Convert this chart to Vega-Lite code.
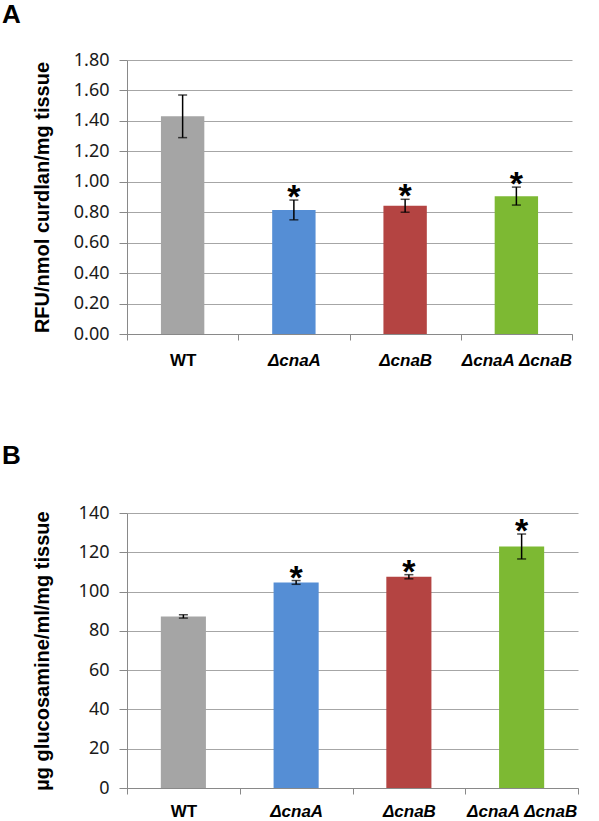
{
  "$schema": "https://vega.github.io/schema/vega-lite/v6.json",
  "background": "white",
  "padding": {"left": 2, "top": 2, "right": 2, "bottom": 0},
  "spacing": 75,
  "config": {
    "view": {"stroke": null},
    "axisY": {
      "labelFont": "Noto Sans", "labelFontSize": 18, "labelColor": "#1a1a1a", "labelPadding": 10,
      "labelOverlap": false, "labelFlush": false, "labelBound": false, "grid": true,
      "tickSize": 8, "tickColor": "#898989", "domainColor": "#898989", "gridColor": "#A6A6A6",
      "titleFont": "Liberation Sans", "titleFontSize": 20, "titleFontWeight": "bold", "titleColor": "black",
      "titleX": -75, "minExtent": 70, "maxExtent": 70
    },
    "axisX": {
      "labelAngle": 0, "tickBand": "extent", "tickSize": 6, "tickColor": "#898989", "domainColor": "#898989",
      "labelFont": "Liberation Sans", "labelFontSize": 17, "labelFontWeight": "bold", "labelColor": "black", "labelPadding": 12
    },
    "title": {"font": "Liberation Sans", "fontSize": 26, "fontWeight": "bold", "color": "black", "anchor": "start", "frame": "group"}
  },
  "vconcat": [
    {
      "width": 445, "height": 274,
      "title": {"text": "A", "dx": -125, "offset": 23},
      "data": {"values": [
        {"strain": "WT", "value": 1.43, "lo": 1.29, "hi": 1.57, "sig": false},
        {"strain": "ΔcnaA", "value": 0.815, "lo": 0.75, "hi": 0.88, "sig": true},
        {"strain": "ΔcnaB", "value": 0.843, "lo": 0.80, "hi": 0.885, "sig": true},
        {"strain": "ΔcnaA ΔcnaB", "value": 0.905, "lo": 0.847, "hi": 0.965, "sig": true}
      ]},
      "encoding": {
        "x": {"field": "strain", "type": "nominal", "sort": null, "title": null,
          "scale": {"paddingInner": 0, "paddingOuter": 0},
          "axis": {"labelFontStyle": {"condition": {"test": "datum.value == 'WT'", "value": "normal"}, "value": "italic"}}}
      },
      "layer": [
        {
          "mark": {"type": "bar", "width": {"band": 0.39}},
          "encoding": {
            "y": {"field": "value", "type": "quantitative", "title": "RFU/nmol curdlan/mg tissue",
              "scale": {"domain": [0, 1.8]},
              "axis": {"values": [0, 0.2, 0.4, 0.6, 0.8, 1.0, 1.2, 1.4, 1.6, 1.8], "format": ".2f"}},
            "color": {"field": "strain", "type": "nominal", "legend": null,
              "scale": {"domain": ["WT", "ΔcnaA", "ΔcnaB", "ΔcnaA ΔcnaB"], "range": ["#A5A5A5", "#558ED5", "#B44442", "#7DB933"]}}
          }
        },
        {
          "mark": {"type": "rule", "color": "black", "strokeWidth": 1.5},
          "encoding": {"y": {"field": "lo", "type": "quantitative", "title": "RFU/nmol curdlan/mg tissue",
              "axis": {"values": [0, 0.2, 0.4, 0.6, 0.8, 1.0, 1.2, 1.4, 1.6, 1.8], "format": ".2f"}}, "y2": {"field": "hi"}}
        },
        {
          "mark": {"type": "tick", "color": "black", "size": 9, "thickness": 1.5},
          "encoding": {"y": {"field": "lo", "type": "quantitative", "title": "RFU/nmol curdlan/mg tissue",
              "axis": {"values": [0, 0.2, 0.4, 0.6, 0.8, 1.0, 1.2, 1.4, 1.6, 1.8], "format": ".2f"}}}
        },
        {
          "mark": {"type": "tick", "color": "black", "size": 9, "thickness": 1.5},
          "encoding": {"y": {"field": "hi", "type": "quantitative", "title": "RFU/nmol curdlan/mg tissue",
              "axis": {"values": [0, 0.2, 0.4, 0.6, 0.8, 1.0, 1.2, 1.4, 1.6, 1.8], "format": ".2f"}}}
        },
        {
          "transform": [{"filter": "datum.sig"}],
          "mark": {"type": "text", "text": "*", "font": "Liberation Sans", "fontSize": 34, "fontWeight": "bold", "baseline": "alphabetic", "dy": 8, "color": "black"},
          "encoding": {"y": {"field": "hi", "type": "quantitative", "title": "RFU/nmol curdlan/mg tissue",
              "axis": {"values": [0, 0.2, 0.4, 0.6, 0.8, 1.0, 1.2, 1.4, 1.6, 1.8], "format": ".2f"}}}
        }
      ]
    },
    {
      "width": 451, "height": 275,
      "title": {"text": "B", "dx": -125, "offset": 35},
      "data": {"values": [
        {"strain": "WT", "value": 87.3, "lo": 86.5, "hi": 88.2, "sig": false},
        {"strain": "ΔcnaA", "value": 104.6, "lo": 103.7, "hi": 105.6, "sig": true},
        {"strain": "ΔcnaB", "value": 107.5, "lo": 106.5, "hi": 108.6, "sig": true},
        {"strain": "ΔcnaA ΔcnaB", "value": 122.9, "lo": 116.6, "hi": 129.3, "sig": true}
      ]},
      "encoding": {
        "x": {"field": "strain", "type": "nominal", "sort": null, "title": null,
          "scale": {"paddingInner": 0, "paddingOuter": 0},
          "axis": {"labelPadding": 9, "labelFontStyle": {"condition": {"test": "datum.value == 'WT'", "value": "normal"}, "value": "italic"}}}
      },
      "layer": [
        {
          "mark": {"type": "bar", "width": {"band": 0.4}},
          "encoding": {
            "y": {"field": "value", "type": "quantitative", "title": "µg glucosamine/ml/mg tissue",
              "scale": {"domain": [0, 140]},
              "axis": {"values": [0, 20, 40, 60, 80, 100, 120, 140], "format": "d"}},
            "color": {"field": "strain", "type": "nominal", "legend": null,
              "scale": {"domain": ["WT", "ΔcnaA", "ΔcnaB", "ΔcnaA ΔcnaB"], "range": ["#A5A5A5", "#558ED5", "#B44442", "#8CC83F"]}}
          }
        },
        {
          "mark": {"type": "rule", "color": "black", "strokeWidth": 1.5},
          "encoding": {"y": {"field": "lo", "type": "quantitative", "title": "µg glucosamine/ml/mg tissue",
              "axis": {"values": [0, 20, 40, 60, 80, 100, 120, 140], "format": "d"}}, "y2": {"field": "hi"}}
        },
        {
          "mark": {"type": "tick", "color": "black", "size": 9, "thickness": 1.5},
          "encoding": {"y": {"field": "lo", "type": "quantitative", "title": "µg glucosamine/ml/mg tissue",
              "axis": {"values": [0, 20, 40, 60, 80, 100, 120, 140], "format": "d"}}}
        },
        {
          "mark": {"type": "tick", "color": "black", "size": 9, "thickness": 1.5},
          "encoding": {"y": {"field": "hi", "type": "quantitative", "title": "µg glucosamine/ml/mg tissue",
              "axis": {"values": [0, 20, 40, 60, 80, 100, 120, 140], "format": "d"}}}
        },
        {
          "transform": [{"filter": "datum.sig"}],
          "mark": {"type": "text", "text": "*", "font": "Liberation Sans", "fontSize": 34, "fontWeight": "bold", "baseline": "alphabetic", "dy": 8, "color": "black"},
          "encoding": {"y": {"field": "hi", "type": "quantitative", "title": "µg glucosamine/ml/mg tissue",
              "axis": {"values": [0, 20, 40, 60, 80, 100, 120, 140], "format": "d"}}}
        }
      ]
    }
  ]
}
